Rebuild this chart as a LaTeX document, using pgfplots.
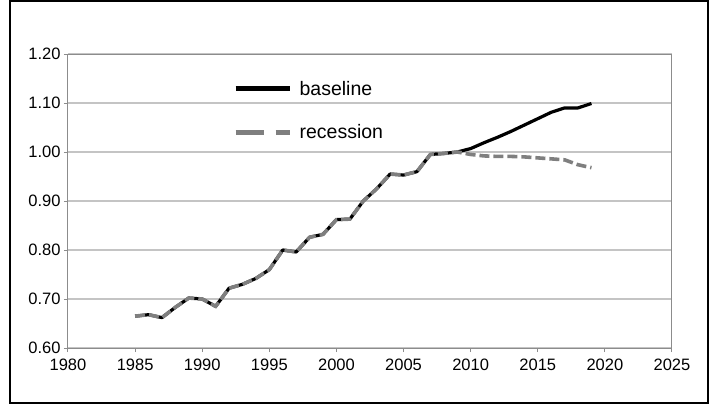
\documentclass[border=0pt]{standalone}
\usepackage{pgfplots}
\pgfplotsset{compat=1.18}
\usepackage{fontspec}
\setmainfont{Liberation Sans}
\definecolor{gridc}{HTML}{C4C4C4}
\definecolor{axc}{HTML}{8C8C8C}
\definecolor{recc}{HTML}{7F7F7F}
\begin{document}
\begin{tikzpicture}[x=1pt,y=1pt]
\useasboundingbox (0,0) rectangle (713,413);
\draw[line width=2pt] (10,10) rectangle (708,412);
\begin{axis}[
  at={(68pt,65pt)}, anchor=south west,
  scale only axis, width=604pt, height=294pt,
  xmin=1980, xmax=2025, ymin=0.6, ymax=1.2,
  xtick={1980,1985,1990,1995,2000,2005,2010,2015,2020,2025},
  ytick={0.6,0.7,0.8,0.9,1.0,1.1,1.2},
  yticklabel style={/pgf/number format/fixed, /pgf/number format/fixed zerofill, /pgf/number format/precision=2},
  xticklabel style={yshift=-3pt, /pgf/number format/set thousands separator={}},
  /pgf/number format/assume math mode=true,
  ticklabel style={font=\fontsize{16.5}{16.5}\selectfont},
  ymajorgrids, grid style={color=gridc, line width=1.5pt},
  axis line style={color=axc, line width=1pt},
  tick style={color=axc, line width=1pt},
  tick align=outside, major tick length=4pt, tick pos=left,
  legend style={draw=none, fill=none, at={(0.273,0.916)}, anchor=north west,
    font=\fontsize{19.5}{19.5}\selectfont, row sep=24pt, inner sep=0pt,
    cells={anchor=west}},
  legend cell align=left,
]
\addplot[black, line width=3.2pt, line join=round,
  legend image code/.code={\draw[black, line width=5pt] (0pt,0pt) -- (54pt,0pt); \path[draw=none] (54pt,0pt) -- (62pt,0pt);}]
coordinates {
(1985,0.665)(1986,0.668)(1987,0.662)(1988,0.683)(1989,0.702)(1990,0.700)
(1991,0.685)(1992,0.722)(1993,0.730)(1994,0.742)(1995,0.760)(1996,0.800)
(1997,0.796)(1998,0.826)(1999,0.832)(2000,0.862)(2001,0.863)(2002,0.900)
(2003,0.925)(2004,0.955)(2005,0.953)(2006,0.960)(2007,0.995)(2008,0.997)
(2009,1.000)(2010,1.007)(2011,1.019)(2012,1.030)(2013,1.042)(2014,1.055)
(2015,1.068)(2016,1.081)(2017,1.090)(2018,1.090)(2019,1.099)
};
\addlegendentry{baseline}
\addplot[recc, line width=3.6pt, dash pattern=on 10pt off 4pt,
  legend image code/.code={\draw[recc, line width=5pt, dash pattern=on 28pt off 12pt] (0pt,0pt) -- (54pt,0pt); \path[draw=none] (54pt,0pt) -- (62pt,0pt);}]
coordinates {
(1985,0.665)(1986,0.668)(1987,0.662)(1988,0.683)(1989,0.702)(1990,0.700)
(1991,0.685)(1992,0.722)(1993,0.730)(1994,0.742)(1995,0.760)(1996,0.800)
(1997,0.796)(1998,0.826)(1999,0.832)(2000,0.862)(2001,0.863)(2002,0.900)
(2003,0.925)(2004,0.955)(2005,0.953)(2006,0.960)(2007,0.995)(2008,0.997)
(2009,1.000)(2010,0.995)(2011,0.992)(2012,0.991)(2013,0.991)(2014,0.990)
(2015,0.988)(2016,0.986)(2017,0.984)(2018,0.974)(2019,0.968)
};
\addlegendentry{recession}
\end{axis}
\end{tikzpicture}
\end{document}
